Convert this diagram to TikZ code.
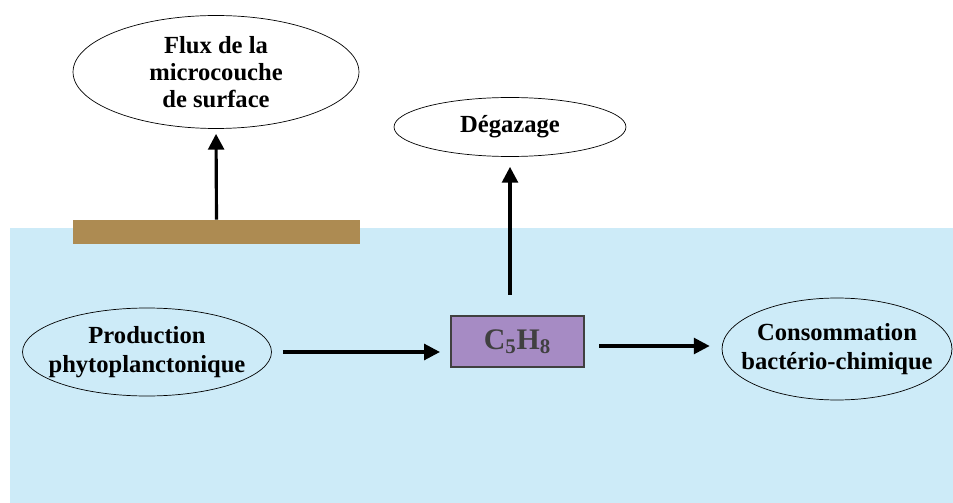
\documentclass[tikz,border=0pt]{standalone}
\usepackage{fontspec}
\setmainfont{Liberation Serif}
\usetikzlibrary{arrows.meta,shapes.geometric}
\definecolor{water}{HTML}{CDEBF8}
\definecolor{film}{HTML}{AD8B52}
\definecolor{isop}{HTML}{A68BC4}
\begin{document}
\begin{tikzpicture}[x=0.02cm,y=-0.02cm]
 \tikzset{flow/.style={-{Triangle[length=9pt,width=9pt]}, line width=1.8pt}}
 \tikzset{bubble/.style={draw, ellipse, inner xsep=-0.3cm, inner ysep=0pt, align=center, font=\fontsize{14}{15.5}\selectfont\bfseries}}
  \useasboundingbox (0,0) rectangle (953,503);
  \fill[water] (10,228) rectangle (953,503);
  \node[fill=film, minimum width=5.74cm, minimum height=0.48cm, inner sep=0pt] (SURF) at (216.5,232) {};
  \node[bubble, minimum width=5.72cm, minimum height=2.26cm] (FLUX) at (216,72) {Flux de la\\microcouche\\de surface};
  \node[bubble, minimum width=4.64cm, minimum height=1.18cm] (DEGAZ) at (510,127) {Dégazage};
  \node[bubble, minimum width=4.98cm, minimum height=1.76cm, font=\fontsize{14}{16.5}\selectfont\bfseries] (PROD) at (147,352) {Production\\phytoplanctonique};
  \node[bubble, minimum width=4.6cm, minimum height=2.04cm, font=\fontsize{14}{16.5}\selectfont\bfseries] (CONSO) at (837,349) {Consommation\\bactério-chimique};
  \node[draw=black!75, line width=1.2pt, fill=isop, text=black!75, minimum width=2.66cm, minimum height=1.02cm, font=\fontsize{17}{20}\selectfont\bfseries] (C5H8) at (517.5,341.5) {C\textsubscript{5}H\textsubscript{8}};
  \draw[flow, shorten >=0.1cm] (SURF.north) -- (FLUX.south);
  \draw[flow, shorten <=0.4cm, shorten >=0.2cm] (C5H8.north -| 510,0) -- (DEGAZ.south);
  \draw[flow, shorten <=0.22cm, shorten >=0.2cm] (PROD.east) -- (PROD.east -| C5H8.west);
  \draw[flow, shorten <=0.28cm, shorten >=0.24cm] ([yshift=-0.09cm]C5H8.east) -- ([yshift=-0.09cm]C5H8.east -| CONSO.west);
\end{tikzpicture}
\end{document}
